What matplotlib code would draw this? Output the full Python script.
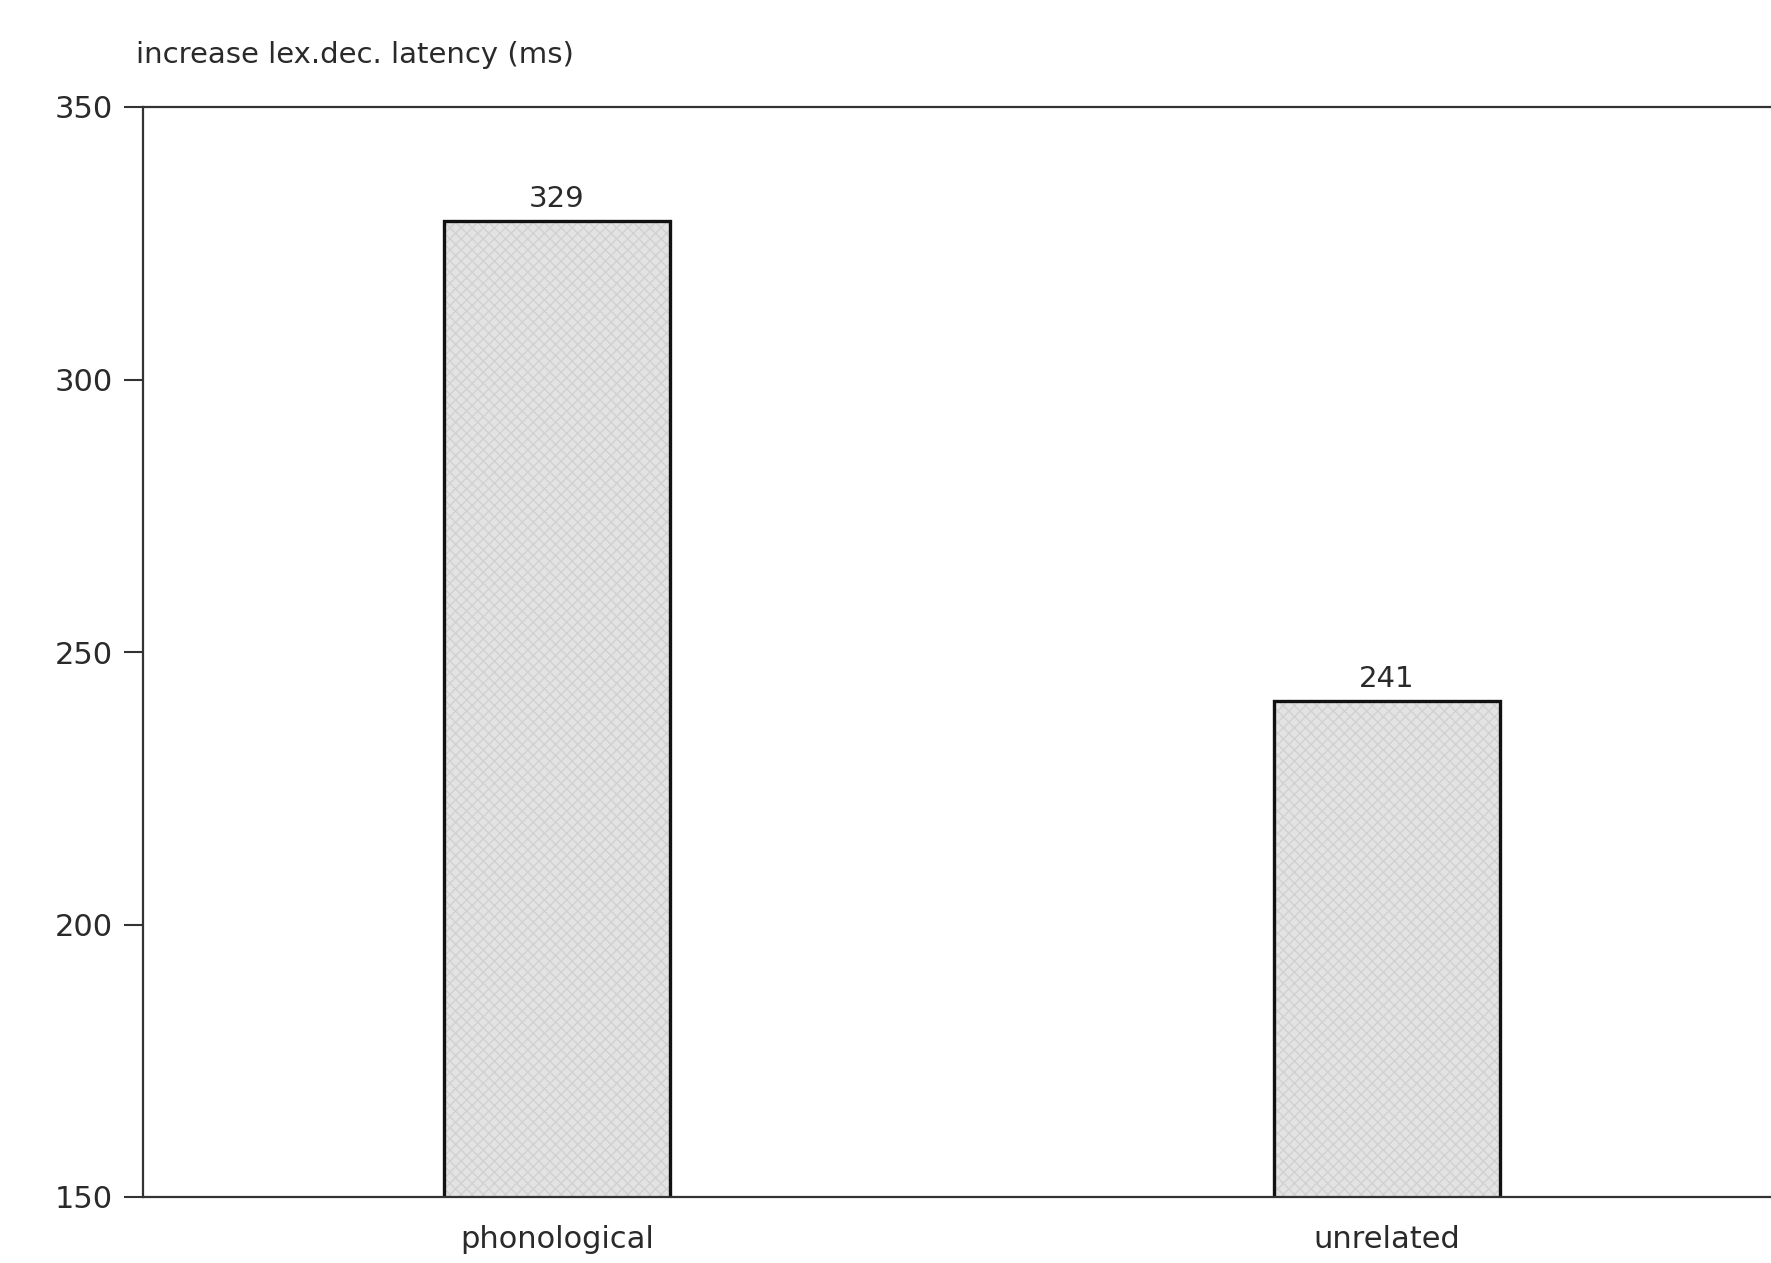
import matplotlib
matplotlib.use("Agg")
import matplotlib.pyplot as plt

# ── Data ──────────────────────────────────────────────
conditions = ["phonological", "unrelated"]
latency = [329, 241]
y_ticks = [150, 200, 250, 300, 350]

plt.rcParams["font.family"] = ["DejaVu Sans"]
TEXT = "#2a2a2a"

fig = plt.figure(figsize=(17.71, 12.63), dpi=100)
ax = fig.add_axes([143 / 1771, 1 - 1197 / 1263, 1 - 143 / 1771, (1197 - 107) / 1263])

x = list(range(len(conditions)))
bars = ax.bar(x, latency, width=0.272, color="#e3e3e3",
              edgecolor="#111111", linewidth=2.4, hatch="xxx", zorder=2)
for b in bars:
    b._hatch_color = (0.82, 0.82, 0.82, 1.0)

# value labels just above each bar
for xi, v in zip(x, latency):
    ax.text(xi, v + 1.5, str(v), ha="center", va="bottom", fontsize=21, color=TEXT)

ax.set_xlim(-0.499, 1.463)
ax.set_ylim(150, 350)
ax.set_yticks(y_ticks)
ax.set_yticklabels([str(t) for t in y_ticks], fontsize=22, color=TEXT)
ax.set_xticks(x)
ax.set_xticklabels(conditions, fontsize=22, color=TEXT)
ax.tick_params(axis="x", length=0, pad=20)
ax.tick_params(axis="y", length=14, width=1.5, pad=8, color="#333333")

ax.spines["right"].set_visible(False)
for s in ["left", "top", "bottom"]:
    ax.spines[s].set_color("#333333")
    ax.spines[s].set_linewidth(1.6)

fig.text(136 / 1771, 1 - 55 / 1263, "increase lex.dec. latency (ms)",
         fontsize=21, color=TEXT, ha="left", va="center")

fig.savefig("out.png", dpi=100, facecolor="white")
